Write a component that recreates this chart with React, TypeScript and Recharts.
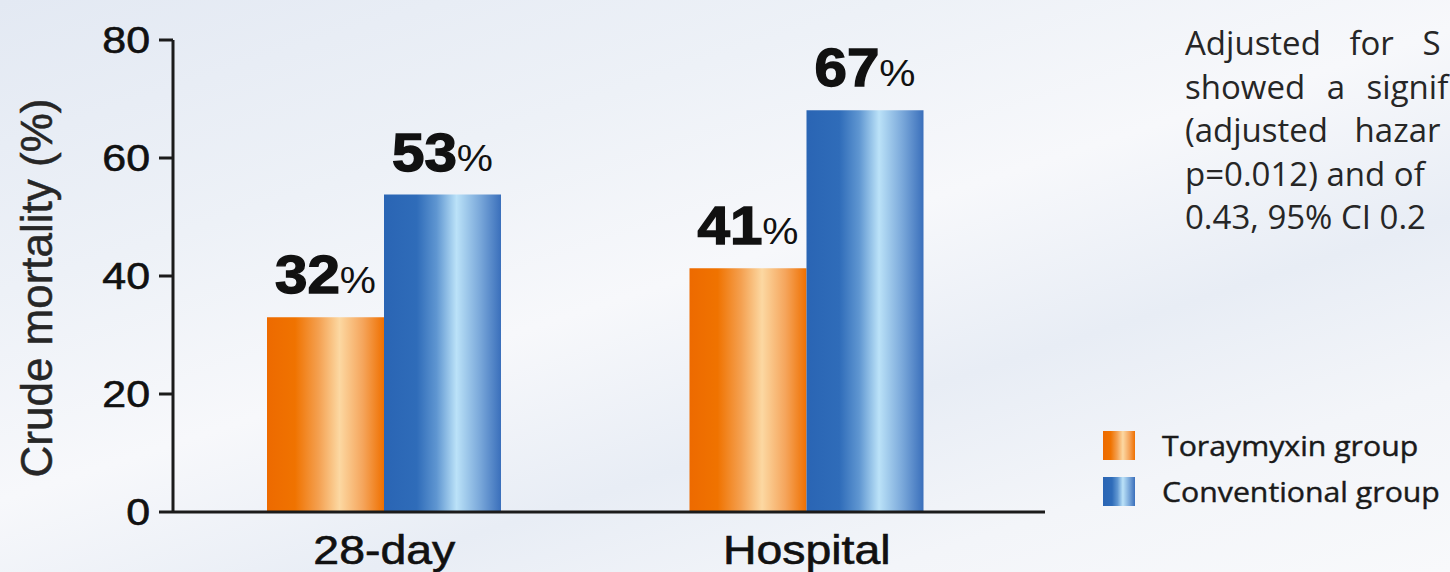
import React from 'react';
import { BarChart, Bar, XAxis, YAxis, LabelList, Label } from 'recharts';

const categories = ['28-day', 'Hospital'];
const toraymyxin = [33, 41.3];
const conventional = [53.8, 68.1];
const toraymyxinLabels = ['32', '41'];
const conventionalLabels = ['53', '67'];
const yTicks = [0, 20, 40, 60, 80];
const seriesNames = ['Toraymyxin group', 'Conventional group'];
const paragraphLines = [
  'Adjusted for S',
  'showed a signif',
  '(adjusted hazar',
  'p=0.012) and of',
  '0.43, 95% CI 0.2',
];
const paragraphWordSpacing = [20, 13, 18, 0, 0];

const data = categories.map((c, i) => ({
  category: c,
  toraymyxin: toraymyxin[i],
  conventional: conventional[i],
}));

const ORANGE_STOPS = [
  ['0%', '#ED6A00'],
  ['24%', '#F07300'],
  ['44%', '#F4A050'],
  ['62%', '#FCD8A2'],
  ['82%', '#F5A55C'],
  ['100%', '#EF7000'],
];
const BLUE_STOPS = [
  ['0%', '#2A65B4'],
  ['28%', '#2F6CB9'],
  ['45%', '#5F96D1'],
  ['62%', '#BBE2F8'],
  ['82%', '#7AA8DA'],
  ['100%', '#3A6FBB'],
];
const cssGrad = (stops: string[][]) =>
  `linear-gradient(to right, ${stops.map((s) => `${s[1]} ${s[0]}`).join(', ')})`;

const AXIS = '#1b1b1b';
const SX = 1.16;
const FONT = 'Liberation Sans, Arial, sans-serif';

const YTick = (props: any) => {
  const { x, y, payload } = props;
  return (
    <g transform={`translate(${x},${y}) scale(${SX},1)`}>
      <text x={0} y={0} dy="0.36em" textAnchor="end" fontSize={37} fill="#111" fontFamily={FONT} stroke="#111" strokeWidth={0.6}>
        {payload.value}
      </text>
    </g>
  );
};

const XTick = (props: any) => {
  const { x, y, payload } = props;
  return (
    <g transform={`translate(${x},${y + 52}) scale(${SX},1)`}>
      <text x={0} y={0} textAnchor="middle" fontSize={40} fill="#111" fontFamily={FONT} stroke="#111" strokeWidth={0.6}>
        {payload.value}
      </text>
    </g>
  );
};

const makeValueLabel = (labels: string[]) => (props: any) => {
  const { x, y, width, index } = props;
  return (
    <g transform={`translate(${x + width / 2},${y - 24}) scale(1.1,1)`}>
      <text x={0} y={0} textAnchor="middle" fill="#111" fontFamily={FONT}>
        <tspan fontSize={53} fontWeight={700} stroke="#111" strokeWidth={1.4}>{labels[index]}</tspan>
        <tspan fontSize={37} fontWeight={400}>%</tspan>
      </text>
    </g>
  );
};

const YTitle = (props: any) => {
  const vb = props.viewBox || { x: 0, y: 40, width: 173, height: 472 };
  const cx = 52;
  const cy = vb.y + vb.height / 2 + 12;
  return (
    <text
      x={cx}
      y={cy}
      transform={`rotate(-90 ${cx} ${cy})`}
      textAnchor="middle"
      fontSize={44}
      fill="#262626"
      fontFamily={FONT}
      stroke="#262626"
      strokeWidth={0.5}
    >
      Crude mortality (%)
    </text>
  );
};

const LegendBox = () => (
  <div style={{ position: 'absolute', left: 1103, top: 422, display: 'flex', flexDirection: 'column' }}>
    {seriesNames.map((n, i) => (
      <div key={n} style={{ display: 'flex', alignItems: 'center', height: 46 }}>
        <div
          style={{
            width: 32,
            height: 29,
            background: cssGrad(i === 0 ? ORANGE_STOPS : BLUE_STOPS),
            marginRight: 27,
            flex: 'none',
          }}
        />
        <span
          style={{
            fontFamily: '"Open Sans", "Noto Sans", sans-serif',
            fontSize: 27,
            color: '#1a1a1a',
            whiteSpace: 'nowrap',
            display: 'inline-block',
            transform: 'scale(1.12,1)',
            transformOrigin: 'left center',
            WebkitTextStroke: '0.4px #1a1a1a',
          }}
        >
          {n}
        </span>
      </div>
    ))}
  </div>
);

export default function App() {
  return (
    <div
      style={{
        position: 'absolute',
        left: 0,
        top: 0,
        width: 1450,
        height: 572,
        overflow: 'hidden',
        background:
          'linear-gradient(162deg, #e3e9f3 0%, #edf1f7 28%, #f7f8fb 48%, #e8edf5 66%, #f3f5f9 82%, #f8f9fb 100%)',
      }}
    >
      <div
        style={{
          position: 'absolute',
          left: 1185,
          top: 21,
          fontFamily: '"Open Sans", "Noto Sans", sans-serif',
          fontSize: 33,
          color: '#262626',
          lineHeight: '43.5px',
        }}
      >
        {paragraphLines.map((l, i) => (
          <div key={i} style={{ whiteSpace: 'pre', wordSpacing: paragraphWordSpacing[i] }}>
            {l}
          </div>
        ))}
      </div>
      <LegendBox />
      <div style={{ position: 'absolute', left: 0, top: 0 }}>
        <BarChart
          width={1450}
          height={572}
          data={data}
          margin={{ top: 40, right: 405, bottom: 0, left: 0 }}
          barGap={0}
        >
          <defs>
            <linearGradient id="gOrange" x1="0" y1="0" x2="1" y2="0">
              {ORANGE_STOPS.map((s) => (
                <stop key={s[0]} offset={s[0]} stopColor={s[1]} />
              ))}
            </linearGradient>
            <linearGradient id="gBlue" x1="0" y1="0" x2="1" y2="0">
              {BLUE_STOPS.map((s) => (
                <stop key={s[0]} offset={s[0]} stopColor={s[1]} />
              ))}
            </linearGradient>
          </defs>
          <XAxis
            dataKey="category"
            height={60}
            padding={{ left: 0, right: 27 }}
            axisLine={{ stroke: AXIS, strokeWidth: 3 }}
            tickLine={false}
            tickSize={0}
            tickMargin={0}
            tick={<XTick />}
            interval={0}
          />
          <YAxis
            width={173}
            domain={[0, 80]}
            ticks={yTicks}
            axisLine={{ stroke: AXIS, strokeWidth: 3 }}
            tickLine={{ stroke: AXIS, strokeWidth: 3 }}
            tickSize={14}
            tickMargin={9}
            tick={<YTick />}
            interval={0}
          >
            <Label content={<YTitle />} />
          </YAxis>
          <Bar dataKey="toraymyxin" name={seriesNames[0]} fill="url(#gOrange)" barSize={117} isAnimationActive={false}>
            <LabelList dataKey="toraymyxin" content={makeValueLabel(toraymyxinLabels)} />
          </Bar>
          <Bar dataKey="conventional" name={seriesNames[1]} fill="url(#gBlue)" barSize={117} isAnimationActive={false}>
            <LabelList dataKey="conventional" content={makeValueLabel(conventionalLabels)} />
          </Bar>
        </BarChart>
      </div>
    </div>
  );
}
